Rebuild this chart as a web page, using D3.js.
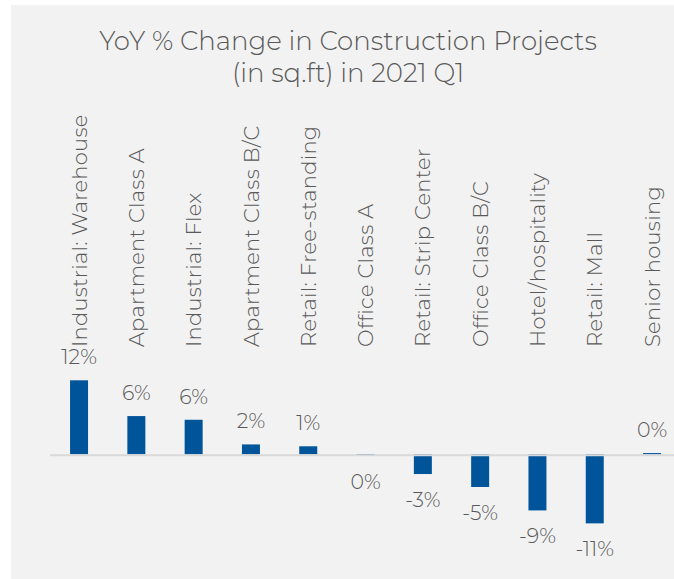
<!DOCTYPE html>
<html>
<head>
<meta charset="utf-8">
<script src="https://cdn.jsdelivr.net/npm/d3@7"></script>
<style>
	html, body { margin: 0; padding: 0; background: #ffffff; }
	svg { display: block; }
	text { font-family: Montserrat, "Open Sans", Lato, sans-serif; font-weight: 300; fill: #595959; }
</style>
</head>
<body>
<svg id="chart" width="674" height="579"></svg>
<script>
	// data
	var categories = ["Industrial: Warehouse", "Apartment Class A", "Industrial: Flex", "Apartment Class B/C",
		"Retail: Free-standing", "Office Class A", "Retail: Strip Center", "Office Class B/C",
		"Hotel/hospitality", "Retail: Mall", "Senior housing"];
	var values = [12.0, 6.2, 5.6, 1.6, 1.3, -0.2, -3.2, -5.3, -9.1, -11.2, 0.2];
	var titleLines = ["YoY % Change in Construction Projects", "(in sq.ft) in 2021 Q1"];

	var svg = d3.select("#chart");

	// panel background
	svg.append("rect")
		.attr("x", 11).attr("y", 5)
		.attr("width", 663).attr("height", 574)
		.attr("fill", "#f2f2f2");

	svg.selectAll(".title")
		.data(titleLines).enter()
		.append("text")
		.attr("class", "title")
		.attr("x", 348)
		.attr("y", function (d, i) { return 49.5 + 32.5 * i })
		.attr("text-anchor", "middle")
		.style("font-size", "26px")
		.text(function (d) { return d });

	var x = d3.scaleBand()
		.domain(categories)
		.range([50.4, 680.7])
		.paddingInner(0.686)
		.paddingOuter(0.343);

	var y = d3.scaleLinear()
		.domain([-12, 12])
		.range([528.3, 380.3]);

	function cx(d) { return x(d) + x.bandwidth() / 2 }
	function fmt(v) { return (Math.round(v) || 0) + "%" }

	var rows = categories.map(function (c, i) { return { cat: c, v: values[i] } });

	// bars
	svg.selectAll(".bar")
		.data(rows).enter()
		.append("rect")
		.attr("class", "bar")
		.attr("x", function (d) { return x(d.cat) })
		.attr("width", x.bandwidth())
		.attr("y", function (d) { return Math.min(y(d.v), y(0)) })
		.attr("height", function (d) { return Math.max(Math.abs(y(d.v) - y(0)), 1.2) })
		.attr("fill", "#00549a");

	// zero line
	svg.append("line")
		.attr("x1", 50).attr("x2", 674)
		.attr("y1", y(0) + 1).attr("y2", y(0) + 1)
		.attr("stroke", "#d9d9d9")
		.attr("stroke-width", 2);

	// value labels
	svg.selectAll(".value")
		.data(rows).enter()
		.append("text")
		.attr("class", "value")
		.attr("x", function (d) { return cx(d.cat) })
		.attr("y", function (d) { return d.v >= 0 ? y(d.v) - 16 : y(d.v) + 33 })
		.attr("text-anchor", "middle")
		.style("font-size", "20.5px")
		.text(function (d) { return fmt(d.v) });

	// category labels, rotated above the bars
	svg.selectAll(".cat")
		.data(categories).enter()
		.append("text")
		.attr("class", "cat")
		.attr("transform", function (d) { return "translate(" + cx(d) + ",347) rotate(-90)" })
		.attr("dy", "0.36em")
		.attr("text-anchor", "start")
		.style("font-size", "21px")
		.style("letter-spacing", "0.3px")
		.text(function (d) { return d });
</script>
</body>
</html>
